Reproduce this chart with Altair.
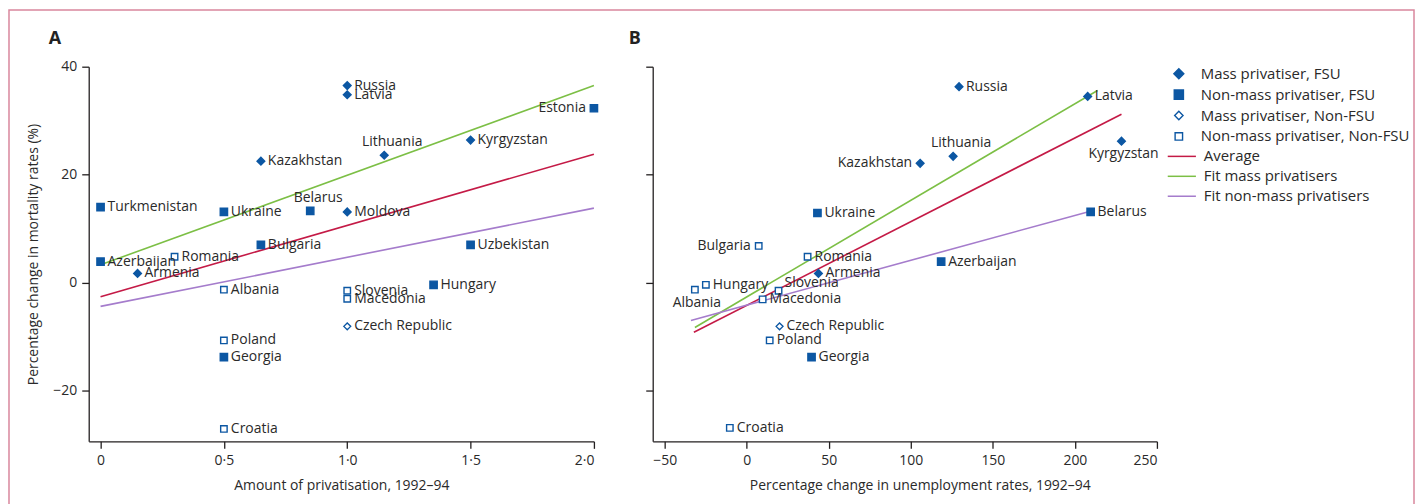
import altair as alt
import pandas as pd

# ---------------- data ----------------
MF = "Mass privatiser, FSU"
NF = "Non-mass privatiser, FSU"
MN = "Mass privatiser, Non-FSU"
NN = "Non-mass privatiser, Non-FSU"
groups = [MF, NF, MN, NN]

fit_names = ["Average", "Fit mass privatisers", "Fit non-mass privatisers"]

# Panel A: amount of privatisation vs mortality change
a_country = ["Russia", "Latvia", "Estonia", "Lithuania", "Kyrgyzstan", "Kazakhstan",
             "Turkmenistan", "Ukraine", "Belarus", "Moldova", "Bulgaria", "Uzbekistan",
             "Romania", "Azerbaijan", "Armenia", "Hungary", "Albania", "Slovenia",
             "Macedonia", "Czech Republic", "Poland", "Georgia", "Croatia"]
a_priv = [1.0, 1.0, 2.0, 1.15, 1.5, 0.65, 0.0, 0.5, 0.85, 1.0, 0.65, 1.5,
          0.3, 0.0, 0.15, 1.35, 0.5, 1.0, 1.0, 1.0, 0.5, 0.5, 0.5]
a_mort = [36.5, 34.8, 32.3, 23.6, 26.4, 22.5, 14.0, 13.1, 13.3, 13.1, 7.0, 7.0,
          4.8, 3.9, 1.7, -0.4, -1.3, -1.5, -3.0, -8.1, -10.7, -13.8, -27.1]
a_group = [MF, MF, NF, MF, MF, MF, NF, NF, NF, MF, NF, NF,
           NN, NF, MF, NF, NN, NN, NN, MN, NN, NF, NN]

a_fit_x0 = [0.0, 0.0, 0.0]
a_fit_x1 = [2.0, 2.0, 2.0]
a_fit_y0 = [-2.6, 3.3, -4.4]
a_fit_y1 = [23.8, 36.5, 13.8]

# Panel B: unemployment change vs mortality change
b_country = ["Russia", "Latvia", "Lithuania", "Kazakhstan", "Kyrgyzstan", "Ukraine",
             "Belarus", "Bulgaria", "Romania", "Armenia", "Azerbaijan", "Hungary",
             "Albania", "Slovenia", "Macedonia", "Czech Republic", "Poland", "Georgia",
             "Croatia"]
b_unemp = [129.4, 207.8, 125.8, 105.7, 228.4, 43.1, 209.6, 7.3, 37.1, 43.7, 118.5,
           -24.9, -31.6, 19.4, 9.7, 20.0, 14.0, 39.5, -10.3]
b_mort = [36.3, 34.5, 23.4, 22.1, 26.2, 12.9, 13.1, 6.8, 4.8, 1.7, 3.9,
          -0.4, -1.3, -1.5, -3.1, -8.1, -10.7, -13.8, -26.9]
b_group = [MF, MF, MF, MF, MF, NF, NF, NN, NN, MF, NF,
           NN, NN, NN, NN, MN, NN, NF, NN]

b_fit_x0 = [-32.2, -31.6, -34.0]
b_fit_x1 = [228.4, 213.8, 207.8]
b_fit_y0 = [-9.2, -8.3, -7.0]
b_fit_y1 = [31.2, 35.6, 13.1]

a_xticks = [0, 0.5, 1.0, 1.5, 2.0]
b_xticks = [-50, 0, 50, 100, 150, 200, 250]
yticks = [-20, 0, 20, 40]

# label placement (style)
a_place = {"Estonia": "left", "Lithuania": "above", "Belarus": "above"}
b_place = {"Kazakhstan": "left", "Bulgaria": "left", "Lithuania": "above",
           "Kyrgyzstan": "below", "Albania": "below", "Slovenia": "upright"}

# ---------------- style ----------------
FONT = "Open Sans"
TXT = "#2a2a2a"
BLUE = "#0c57a3"
RED = "#c41a46"
GREEN = "#7cbf45"
PURPLE = "#a57ccc"
FRAME = "#d9879d"

shape_range = ["diamond", "square", "diamond", "square"]
fill_range = [BLUE, BLUE, "white", "white"]
size_range = [60, 42, 48, 36]
legend_size_range = [100, 56, 58, 45]

text_styles = {
    "right": dict(align="left", baseline="middle", dx=7, dy=0),
    "left": dict(align="right", baseline="middle", dx=-8, dy=0),
    "above": dict(align="center", baseline="middle", dx=8, dy=-13),
    "below": dict(align="center", baseline="middle", dx=2, dy=13),
    "upright": dict(align="left", baseline="middle", dx=6, dy=-8),
}


def make_points(countries, xs, ys, grps, place):
    return pd.DataFrame({
        "country": countries, "x": xs, "y": ys, "group": grps, "sgroup": grps,
        "place": [place.get(c, "right") for c in countries],
    })


def make_lines(x0, x1, y0, y1):
    rows = []
    for i, n in enumerate(fit_names):
        rows.append({"fit": n, "x": x0[i], "y": y0[i]})
        rows.append({"fit": n, "x": x1[i], "y": y1[i]})
    return pd.DataFrame(rows)


one = pd.DataFrame({"k": [0]})
shape_scale = alt.Scale(domain=groups, range=shape_range)
fill_scale = alt.Scale(domain=groups, range=fill_range)


def panel(pts, lines, xdom, xticks, xtitle, label_expr, left, letter, letter_x, title_x):
    xaxis_kw = dict(values=xticks, title=xtitle, labelExpr=label_expr,
                    labelPadding=5, titlePadding=11)
    if title_x is not None:
        xaxis_kw["titleX"] = title_x
    xenc = alt.X("x:Q", scale=alt.Scale(domain=xdom, nice=False, zero=False),
                 axis=alt.Axis(**xaxis_kw))
    yaxis = alt.Axis(values=yticks, labels=left, labelPadding=5, titlePadding=12,
                     title="Percentage change in mortality rates (%)" if left else "")
    yenc = alt.Y("y:Q", scale=alt.Scale(domain=[-29.4, 40], nice=False, zero=False),
                 axis=yaxis)

    if left:
        cleg = None
    else:
        cleg = alt.Legend(orient="none", legendX=523, legendY=82, symbolType="M-2,0H2",
                          symbolSize=200, symbolStrokeWidth=1.5, labelOffset=14,
                          labelFont=FONT, labelFontSize=15, labelColor=TXT,
                          rowPadding=4, labelLimit=400)

    line_layer = alt.Chart(lines).mark_line(strokeWidth=1.6, clip=False).encode(
        x=xenc, y=yenc,
        color=alt.Color("fit:N", scale=alt.Scale(domain=fit_names,
                                                 range=[RED, GREEN, PURPLE]),
                        legend=cleg, title=None),
        detail="fit:N",
    )
    point_layer = alt.Chart(pts).mark_point(filled=True, stroke=BLUE, strokeWidth=1.4,
                                            opacity=1).encode(
        x=xenc, y=yenc,
        shape=alt.Shape("group:N", scale=shape_scale, legend=None),
        fill=alt.Fill("group:N", scale=fill_scale, legend=None),
        size=alt.Size("sgroup:N", scale=alt.Scale(domain=groups, range=size_range),
                      legend=None),
    )
    layers = [line_layer, point_layer]
    for key, st in text_styles.items():
        layers.append(
            alt.Chart(pts).transform_filter(alt.datum.place == key)
            .mark_text(font=FONT, fontSize=14, color=TXT, **st)
            .encode(x=xenc, y=yenc, text="country:N")
        )
    layers.append(
        alt.Chart(one).mark_text(font=FONT, fontSize=18, fontWeight="bold",
                                 color="#222222", align="center", baseline="middle")
        .encode(x=alt.value(letter_x), y=alt.value(-28), text=alt.value(letter))
    )
    if left:
        frame = alt.Chart(one).mark_rect(
            fillOpacity=0, stroke=FRAME, strokeWidth=1.5).encode(
            x=alt.value(-80), x2=alt.value(1330), y=alt.value(-57), y2=alt.value(450))
        layers = [frame] + layers
        return alt.layer(*layers).properties(width=507, height=376)

    data_layer = alt.layer(*layers)
    # symbol legend for the marker groups
    leg_df = pd.DataFrame({"group": groups, "lgroup": groups})
    leg_y = alt.Y("group:N", scale=alt.Scale(domain=groups, range=[7, 70], padding=0),
                  axis=None)
    leg_pts = alt.Chart(leg_df).mark_point(filled=True, stroke=BLUE, strokeWidth=1.4,
                                           opacity=1).encode(
        x=alt.value(528), y=leg_y,
        shape=alt.Shape("group:N", scale=shape_scale, legend=None),
        fill=alt.Fill("group:N", scale=fill_scale, legend=None),
        size=alt.Size("lgroup:N", scale=alt.Scale(domain=groups, range=legend_size_range),
                      legend=None),
    )
    leg_txt = alt.Chart(leg_df).mark_text(font=FONT, fontSize=15, color=TXT,
                                          align="left", baseline="middle").encode(
        x=alt.value(550), y=leg_y, text="group:N")
    legend_layer = alt.layer(leg_pts, leg_txt)
    return alt.layer(data_layer, legend_layer).resolve_scale(
        y="independent", size="independent").properties(width=506, height=376)


a_pts = make_points(a_country, a_priv, a_mort, a_group, a_place)
b_pts = make_points(b_country, b_unemp, b_mort, b_group, b_place)
a_lines = make_lines(a_fit_x0, a_fit_x1, a_fit_y0, a_fit_y1)
b_lines = make_lines(b_fit_x0, b_fit_x1, b_fit_y0, b_fit_y1)

a_expr = "datum.value == 0 ? '0' : replace(format(datum.value, '.1f'), '.', '\u00b7')"
b_expr = "replace(format(datum.value, 'd'), '-', '\u2212')"

left = panel(a_pts, a_lines, [-0.048, 2.0], a_xticks, "Amount of privatisation, 1992\u201394",
             a_expr, True, "A", -34, None)
right = panel(b_pts, b_lines, [-57.3, 250], b_xticks,
              "Percentage change in unemployment rates, 1992\u201394", b_expr, False, "B",
              -18, 268)

chart = alt.hconcat(left, right, spacing=59).properties(
    bounds="flush", padding=0
).resolve_scale(
    shape="independent", fill="independent", size="independent", color="independent",
    x="independent", y="independent"
).configure(font=FONT).configure_view(stroke=None).configure_axis(
    domainColor="#231f20", domainWidth=1.3, tickColor="#231f20", tickWidth=1.3,
    tickSize=7, grid=False, labelFont=FONT, labelFontSize=14, labelColor=TXT,
    titleFont=FONT, titleFontSize=14, titleFontWeight="normal", titleColor=TXT,
)

chart.save("out.html", embed_options={"renderer": "svg", "actions": False})
